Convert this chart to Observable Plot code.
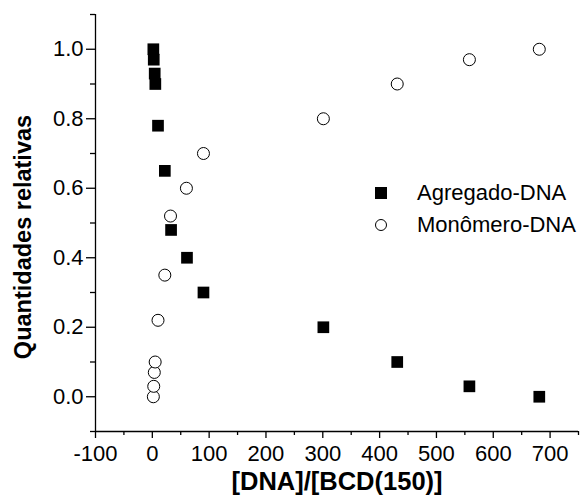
<!DOCTYPE html>
<html><head><meta charset="utf-8">
<script src="https://cdn.jsdelivr.net/npm/d3@7"></script>
<script src="https://cdn.jsdelivr.net/npm/@observablehq/plot@0.6"></script>
<style>
body{margin:0;background:#fff;font-family:"Liberation Sans",Arial,sans-serif}
#wrap{position:relative;width:582px;height:503px}
#legend{position:absolute;left:374px;top:177px;color:#000;white-space:nowrap}
#legend div{display:flex;align-items:center;height:32px}
#legend svg{margin-right:29px;flex:none}
</style>
</head><body><div id="wrap"><div id="legend" style="font-size:22px"></div></div>
<script>
const agregadoX = [1.8, 2.5, 4.2, 5.3, 10, 22, 33, 61, 90, 301, 431, 558, 681];
const agregadoY = [1.0, 0.97, 0.93, 0.90, 0.78, 0.65, 0.48, 0.40, 0.30, 0.20, 0.10, 0.03, 0.0];
const monomeroX = [1.8, 2.5, 3.5, 5, 10, 22, 32, 60, 90, 301, 431, 558, 681];
const monomeroY = [0.0, 0.03, 0.07, 0.10, 0.22, 0.35, 0.52, 0.60, 0.70, 0.80, 0.90, 0.97, 1.0];
const seriesNames = ["Agregado-DNA", "Monômero-DNA"];
const xLabel = "[DNA]/[BCD(150)]";
const yLabel = "Quantidades relativas";
const xMajor = [-100, 0, 100, 200, 300, 400, 500, 600, 700];
const xMinor = [-50, 50, 150, 250, 350, 450, 550, 650, 750];
const yMajor = [0.0, 0.2, 0.4, 0.6, 0.8, 1.0];
const yMinor = [-0.1, 0.1, 0.3, 0.5, 0.7, 0.9, 1.1];

const agregado = agregadoX.map((x, i) => ({x, y: agregadoY[i]}));
const monomero = monomeroX.map((x, i) => ({x, y: monomeroY[i]}));

const chart = Plot.plot({
  width: 582, height: 503,
  marginLeft: 95, marginRight: 4, marginTop: 14, marginBottom: 72,
  style: {fontFamily: "'Liberation Sans', Arial, sans-serif", fontSize: "22px", color: "#000", background: "#fff"},
  x: {domain: [-100, 750]},
  y: {domain: [-0.1, 1.1]},
  marks: [
    Plot.ruleX([-100], {stroke: "#000", strokeWidth: 1.3}),
    Plot.ruleY([-0.1], {stroke: "#000", strokeWidth: 1.3}),
    Plot.axisX(xMajor, {tickSize: 7, tickPadding: 7, fontSize: 22, tickFormat: d => String(d), label: null, stroke: "#000", strokeWidth: 1.3}),
    Plot.axisX(xMinor, {tickSize: 4, fill: "none", label: null, stroke: "#000", strokeWidth: 1.3}),
    Plot.axisY(yMajor, {tickSize: 9, tickPadding: 3, fontSize: 22, tickFormat: d3.format(".1f"), label: null, stroke: "#000", strokeWidth: 1.3}),
    Plot.axisY(yMinor, {tickSize: 5, fill: "none", label: null, stroke: "#000", strokeWidth: 1.3}),
    Plot.text([xLabel], {frameAnchor: "bottom", dy: 58, fontSize: 25.5, fontWeight: "bold"}),
    Plot.text([yLabel], {frameAnchor: "left", textAnchor: "middle", rotate: -90, dx: -72, dy: 14, fontSize: 23.5, fontWeight: "bold"}),
    Plot.dot(monomero, {x: "x", y: "y", r: 6, fill: "#fff", stroke: "#000", strokeWidth: 1}),
    Plot.dot(agregado, {x: "x", y: "y", symbol: "square", r: 6.6, fill: "#000", stroke: "none"})
  ]
});
document.getElementById("wrap").prepend(chart);

const legend = document.getElementById("legend");
legend.innerHTML =
  `<div><svg width="14" height="14"><rect x="1" y="1" width="12" height="12" fill="#000"/></svg>${seriesNames[0]}</div>` +
  `<div><svg width="14" height="14"><circle cx="7" cy="7" r="5.5" fill="#fff" stroke="#000"/></svg>${seriesNames[1]}</div>`;
</script>
</body></html>
